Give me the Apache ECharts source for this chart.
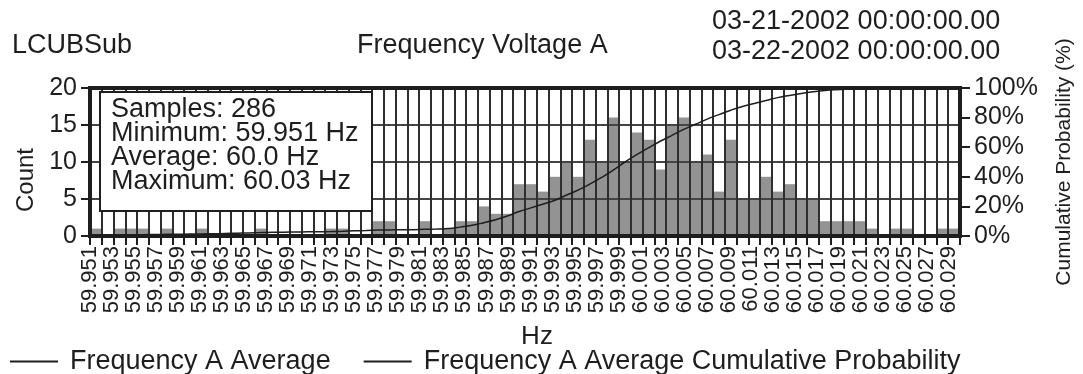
<!DOCTYPE html>
<html>
<head>
<meta charset="utf-8">
<script src="https://cdn.jsdelivr.net/npm/echarts@6/dist/echarts.min.js"></script>
<style>
  html, body { margin: 0; padding: 0; background: #fff; }
  #chart { width: 1083px; height: 374px; }
</style>
</head>
<body>
<div id="chart"></div>
<script>
// Frequency tick labels along the Hz axis (every other one is printed)
const freqTicks = [
  '59.951','59.952','59.953','59.954','59.955','59.956','59.957','59.958','59.959','59.960',
  '59.961','59.962','59.963','59.964','59.965','59.966','59.967','59.968','59.969','59.970',
  '59.971','59.972','59.973','59.974','59.975','59.976','59.977','59.978','59.979','59.980',
  '59.981','59.982','59.983','59.984','59.985','59.986','59.987','59.988','59.989','59.990',
  '59.991','59.992','59.993','59.994','59.995','59.996','59.997','59.998','59.999','60.000',
  '60.001','60.002','60.003','60.004','60.005','60.006','60.007','60.008','60.009','60.010',
  '60.011','60.012','60.013','60.014','60.015','60.016','60.017','60.018','60.019','60.020',
  '60.021','60.022','60.023','60.024','60.025','60.026','60.027','60.028','60.029','60.030'
];

// Histogram counts, one per bin across 59.951 .. 60.030 Hz
const binCounts = [
  1, 0, 1, 1, 1, 0, 1, 0, 0, 1,
  0, 0, 0, 0, 1, 0, 0, 0, 0, 0,
  1, 1, 0, 0, 2, 2, 0, 0, 2, 0,
  1, 2, 2, 4, 3, 3, 7, 7, 6, 8,
  10, 8, 13, 10, 16, 10, 14, 13, 9, 15,
  16, 10, 11, 6, 13, 5, 5, 8, 6, 7,
  5, 5, 2, 2, 2, 2, 1, 0, 1, 1,
  0, 0, 1, 1
];

// Cumulative probability (%) at each bin
const cumulativePct = [
  0.3, 0.4, 0.6, 0.8, 0.9, 1.0, 1.1, 1.2, 1.3, 1.4,
  1.5, 1.7, 1.9, 2.1, 2.3, 2.5, 2.6, 2.7, 2.8, 2.9,
  3.0, 3.2, 3.5, 3.7, 4.0, 4.1, 4.2, 4.3, 4.5, 4.7,
  5.0, 6.0, 7.2, 9.0, 11.0, 13.5, 16.5, 19.0, 21.5, 24.0,
  27.5, 31.0, 35.0, 39.5, 44.5, 50.0, 55.0, 59.5, 64.0, 68.0,
  72.0, 75.5, 79.0, 82.0, 85.0, 87.5, 89.5, 91.5, 93.5, 95.0,
  96.3, 97.4, 98.3, 98.9, 99.3, 99.6, 99.8, 99.9, 100, 100,
  100, 100, 100, 100
];

const statLines = ['Samples: 286', 'Minimum: 59.951 Hz', 'Average: 60.0 Hz', 'Maximum: 60.03 Hz'];
const siteName = 'LCUBSub';
const chartTitle = 'Frequency Voltage A';
const periodLines = ['03-21-2002 00:00:00.00', '03-22-2002 00:00:00.00'];
const seriesNames = ['Frequency A Average', 'Frequency A Average Cumulative Probability'];

const FONT = '"Liberation Sans", Arial, Helvetica, sans-serif';
const INK = '#1e1e1e';
const binIds = binCounts.map((_, i) => String(i));

const chart = echarts.init(document.getElementById('chart'), null, { renderer: 'canvas' });

chart.setOption({
  animation: false,
  backgroundColor: '#fff',
  textStyle: { fontFamily: FONT, color: INK },
  title: [
    { text: siteName, left: 12, top: 32, padding: 0,
      textStyle: { fontSize: 27, fontWeight: 'normal', color: INK, fontFamily: FONT } },
    { text: chartTitle, left: 357, top: 32, padding: 0,
      textStyle: { fontSize: 27, fontWeight: 'normal', color: INK, fontFamily: FONT } },
    { text: periodLines.join('\n'), left: 712, top: 7, padding: 0,
      textStyle: { fontSize: 27, lineHeight: 30, fontWeight: 'normal', color: INK, fontFamily: FONT } },
    { text: statLines.join('\n'), left: 100, top: 93, padding: [5, 14, 16, 11], z: 20,
      backgroundColor: '#fff', borderColor: INK, borderWidth: 2,
      textStyle: { fontSize: 27, lineHeight: 24, fontWeight: 'normal', color: INK, fontFamily: FONT } }
  ],
  legend: {
    left: 5, top: 343, itemWidth: 48, itemHeight: 2, itemGap: 33, icon: 'rect',
    textStyle: { fontSize: 27, color: INK, fontFamily: FONT, padding: [0, 0, 0, 7] },
    data: seriesNames.map(n => ({ name: n, itemStyle: { color: INK } }))
  },
  grid: {
    left: 90, right: 121, top: 88, bottom: 138, show: true, z: 7,
    borderColor: INK, borderWidth: 4, backgroundColor: 'transparent'
  },
  xAxis: [
    {
      type: 'category', data: freqTicks, boundaryGap: false, position: 'bottom',
      axisLine: { show: false }, axisTick: { show: false }, splitLine: { show: false },
      axisLabel: { interval: 1, rotate: 90, fontSize: 22, margin: 10, color: INK, fontFamily: FONT },
      name: 'Hz', nameLocation: 'middle', nameGap: 88,
      nameTextStyle: { fontSize: 26, color: INK, fontFamily: FONT, padding: [0, 0, 0, 24] }
    },
    {
      type: 'category', data: binIds, position: 'bottom', z: 5,
      axisLine: { show: false }, axisLabel: { show: false },
      axisTick: { show: true, interval: 0, length: 9, lineStyle: { color: INK, width: 2 } },
      splitLine: { show: true, interval: 0, lineStyle: { color: '#2e2e2e', width: 2 } }
    }
  ],
  yAxis: [
    {
      type: 'value', min: 0, max: 20, interval: 5, position: 'left', z: 5,
      axisLine: { show: false },
      axisTick: { show: true, length: 9, lineStyle: { color: INK, width: 2 } },
      axisLabel: { fontSize: 25, color: INK, margin: 13, fontFamily: FONT },
      splitLine: { show: true, lineStyle: { color: '#444', width: 2 } },
      name: 'Count', nameLocation: 'middle', nameGap: 52, nameRotate: 90,
      nameTextStyle: { fontSize: 24, color: INK, fontFamily: FONT, padding: [0, 36, 0, 0] }
    },
    {
      type: 'value', min: 0, max: 100, interval: 20, position: 'right', z: 5,
      axisLine: { show: false },
      axisTick: { show: true, length: 10, lineStyle: { color: INK, width: 2 } },
      axisLabel: { fontSize: 25, color: INK, margin: 14, formatter: '{value}%', fontFamily: FONT },
      splitLine: { show: false },
      name: 'Cumulative Probability (%)', nameLocation: 'middle', nameGap: 94, nameRotate: 90,
      nameTextStyle: { fontSize: 21, color: INK, fontFamily: FONT }
    }
  ],
  series: [
    {
      name: seriesNames[0], type: 'bar', xAxisIndex: 1, yAxisIndex: 0,
      data: binCounts, barCategoryGap: 0, z: 2,
      itemStyle: { color: '#939393' }
    },
    {
      name: seriesNames[1], type: 'line', xAxisIndex: 1, yAxisIndex: 1,
      data: cumulativePct, smooth: true, showSymbol: false, z: 8,
      itemStyle: { color: INK },
      lineStyle: { color: INK, width: 1.5 }
    }
  ]
});
</script>
</body>
</html>
